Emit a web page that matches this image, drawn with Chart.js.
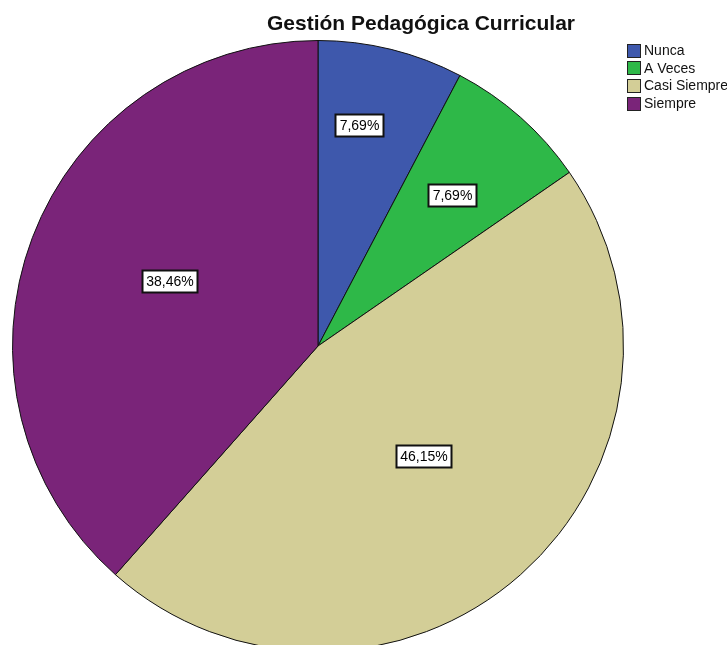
<!DOCTYPE html>
<html>
<head>
<meta charset="utf-8">
<script src="https://cdn.jsdelivr.net/npm/chart.js@4.4.1/dist/chart.umd.min.js"></script>
<style>
  html, body { margin: 0; padding: 0; background: #fff; overflow: hidden; }
  #wrap { position: relative; width: 727px; height: 652px; }
</style>
</head>
<body>
<div id="wrap"><canvas id="pieChart"></canvas></div>
<script>
const chartTitle = 'Gestión Pedagógica Curricular';
const categories = ['Nunca', 'A Veces', 'Casi Siempre', 'Siempre'];
const percents = [7.69, 7.69, 46.15, 38.46];
const sliceColors = ['#3E58AC', '#2EB848', '#D3CE97', '#7A2479'];

// where each value box sits inside its slice (fraction of radius, angle shift in degrees)
const boxPlacement = [
  { r: 0.735, shift: -3.3 },
  { r: 0.66, shift: 0 },
  { r: 0.5, shift: -2.3 },
  { r: 0.53, shift: 2.8 }
];

function fmt(v) {
  return v.toFixed(2).replace('.', ',') + '%';
}

const spssDecor = {
  id: 'spssDecor',
  afterDatasetsDraw(chart) {
    const ctx = chart.ctx;
    const meta = chart.getDatasetMeta(0);

    // value boxes
    ctx.save();
    ctx.font = '14px "Liberation Sans", Arial, sans-serif';
    ctx.textAlign = 'center';
    ctx.textBaseline = 'middle';
    meta.data.forEach((arc, i) => {
      const p = boxPlacement[i];
      const mid = (arc.startAngle + arc.endAngle) / 2 + p.shift * Math.PI / 180;
      const rr = arc.outerRadius * p.r;
      const x = arc.x + Math.cos(mid) * rr;
      const y = arc.y + Math.sin(mid) * rr;
      const txt = fmt(percents[i]);
      const w = Math.round(ctx.measureText(txt).width) + 8;
      const h = 22;
      const bx = Math.round(x - w / 2) + 0.5, by = Math.round(y - h / 2) + 0.5;
      ctx.fillStyle = '#fff';
      ctx.fillRect(bx, by, w, h);
      ctx.strokeStyle = '#111';
      ctx.lineWidth = 2;
      ctx.strokeRect(bx, by, w, h);
      ctx.fillStyle = '#000';
      ctx.fillText(txt, bx + w / 2, by + h / 2 + 1);
    });
    ctx.restore();

    // title
    ctx.save();
    ctx.font = 'bold 21px "Liberation Sans", Arial, sans-serif';
    ctx.fillStyle = '#111';
    ctx.textAlign = 'center';
    ctx.textBaseline = 'middle';
    ctx.fillText(chartTitle, 421, 24);
    ctx.restore();

    // legend
    ctx.save();
    ctx.font = '14px "Liberation Sans", Arial, sans-serif';
    ctx.textBaseline = 'middle';
    categories.forEach((c, i) => {
      const cy = 50 + i * 17.8;
      ctx.fillStyle = sliceColors[i];
      ctx.fillRect(627.5, Math.round(cy - 6.5) + 0.5, 13, 13);
      ctx.strokeStyle = '#222';
      ctx.lineWidth = 1;
      ctx.strokeRect(627.5, Math.round(cy - 6.5) + 0.5, 13, 13);
      ctx.fillStyle = '#111';
      ctx.fillText(c, 644, cy + 1);
    });
    ctx.restore();
  }
};

new Chart(document.getElementById('pieChart'), {
  type: 'pie',
  data: {
    labels: categories,
    datasets: [{
      data: percents,
      backgroundColor: sliceColors,
      borderColor: '#111',
      borderWidth: 1
    }]
  },
  options: {
    responsive: true,
    maintainAspectRatio: false,
    animation: false,
    layout: { padding: { top: 40, left: 12, right: 103, bottom: 0 } },
    plugins: {
      legend: { display: false },
      title: { display: false },
      tooltip: { enabled: false }
    }
  },
  plugins: [spssDecor]
});
</script>
</body>
</html>
